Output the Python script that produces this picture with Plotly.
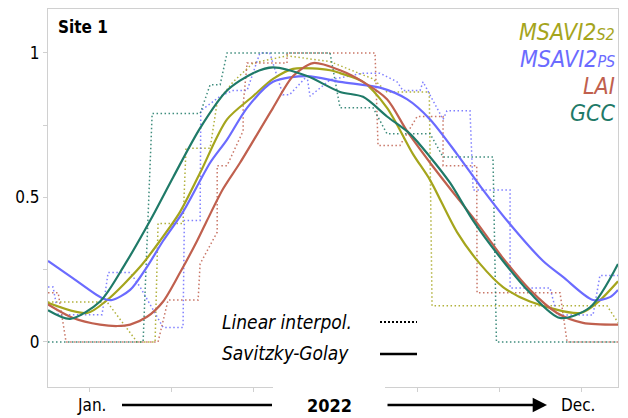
import plotly.graph_objects as go

# ---- data (day of year, value) ----
series_names = ["MSAVI2S2", "MSAVI2PS", "LAI", "GCC"]
colors = {"MSAVI2S2": "#a5a51c", "MSAVI2PS": "#6b6bff", "LAI": "#c0604e", "GCC": "#1f7a68"}

# Savitzky-Golay smoothed curves
sg_msavi_s2_x = [25, 48.8, 61, 81.1, 93.2, 105.4, 117.6, 134, 149.8, 162, 174.2, 196.7, 202.8, 216.8, 231.4, 247.2, 257.6, 274, 288, 302, 318.4, 348.9, 359.2, 372]
sg_msavi_s2_y = [0.135, 0.10, 0.145, 0.26, 0.35, 0.45, 0.585, 0.77, 0.85, 0.91, 0.945, 0.94, 0.93, 0.90, 0.81, 0.65, 0.56, 0.38, 0.27, 0.19, 0.14, 0.10, 0.135, 0.21]

sg_msavi_ps_x = [25, 40.3, 58.5, 64, 75, 85.3, 95.1, 107.2, 123.7, 134, 146.2, 162, 182.7, 202.8, 227.1, 243.5, 257.6, 274, 288, 304.4, 326.4, 338.5, 356.8, 367.1, 372]
sg_msavi_ps_y = [0.28, 0.22, 0.15, 0.145, 0.18, 0.26, 0.35, 0.45, 0.62, 0.70, 0.81, 0.90, 0.92, 0.90, 0.88, 0.84, 0.77, 0.65, 0.54, 0.42, 0.28, 0.225, 0.145, 0.155, 0.18]

sg_lai_x = [25, 40.3, 56.7, 67.1, 75, 85.3, 95.1, 105.4, 115.8, 121.8, 131.6, 141.9, 162, 174.2, 186.4, 202.8, 216.8, 231.4, 243.5, 257.6, 274, 283.8, 302, 318.4, 334.9, 350.7, 372]
sg_lai_y = [0.13, 0.083, 0.06, 0.055, 0.06, 0.087, 0.14, 0.24, 0.35, 0.42, 0.53, 0.62, 0.81, 0.92, 0.965, 0.94, 0.90, 0.84, 0.73, 0.62, 0.50, 0.43, 0.29, 0.18, 0.10, 0.066, 0.06]

sg_gcc_x = [25, 38.5, 56.7, 72, 87.2, 101.2, 117.6, 134, 149.8, 162, 182.7, 202.8, 216.8, 231.4, 245.4, 257.6, 269.8, 283.8, 302, 318.4, 336.7, 355, 372]
sg_gcc_y = [0.11, 0.08, 0.14, 0.27, 0.42, 0.57, 0.74, 0.87, 0.93, 0.95, 0.92, 0.865, 0.848, 0.78, 0.72, 0.64, 0.55, 0.42, 0.28, 0.17, 0.083, 0.12, 0.27]

# Linear interpolation (raw) curves
li_msavi_s2_x = [25, 61, 79.2, 90.2, 92, 107.2, 109, 123.7, 128, 137.7, 149.8, 170.5, 196.7, 222.9, 231.4, 257.1, 258.8, 365.3, 374]
li_msavi_s2_y = [0.138, 0.138, 0.0, 0.0, 0.41, 0.41, 0.67, 0.67, 0.83, 0.90, 0.965, 0.99, 0.97, 0.91, 0.865, 0.865, 0.125, 0.125, 0.05]

li_msavi_ps_x = [25, 28.1, 31.2, 57.9, 61.6, 75, 81.1, 95.1, 107.2, 108, 117.6, 118, 129.8, 137.7, 146.2, 154, 160, 168, 172, 182.7, 184.5, 196.7, 216.8, 227.1, 237.5, 241, 251.5, 253.3, 265.5, 267.9, 281.9, 283.8, 306.3, 306.3, 330.6, 334.9, 356.8, 361, 374]
li_msavi_ps_y = [0.19, 0.19, 0.094, 0.094, 0.24, 0.24, 0.19, 0.05, 0.05, 0.42, 0.42, 0.80, 0.85, 0.87, 0.87, 1.0, 1.0, 0.855, 0.855, 0.92, 0.85, 0.907, 0.93, 0.93, 0.90, 0.87, 0.87, 0.90, 0.77, 0.80, 0.80, 0.526, 0.526, 0.187, 0.187, 0.093, 0.093, 0.23, 0.23]

li_lai_x = [25, 31.2, 36, 92, 98.1, 116.4, 117.6, 128, 128, 134, 143.8, 143.8, 146.2, 170.5, 170.5, 224.1, 225.9, 239.3, 249.7, 265.5, 265.5, 286, 286.2, 336.7, 341, 374]
li_lai_y = [0.17, 0.17, 0.0, 0.0, 0.145, 0.145, 0.27, 0.38, 0.61, 0.61, 0.73, 0.82, 0.965, 0.965, 1.0, 1.0, 0.68, 0.68, 0.78, 0.78, 0.61, 0.61, 0.17, 0.17, 0.0, 0.0]

li_gcc_x = [25, 82.9, 88.4, 117.6, 123.7, 129.8, 134, 196.7, 202.8, 222.9, 231.4, 257.6, 265.5, 295.9, 298, 374]
li_gcc_y = [0.0, 0.0, 0.79, 0.79, 0.89, 0.89, 1.0, 1.0, 0.81, 0.81, 0.72, 0.72, 0.64, 0.64, 0.0, 0.0]

sg = {"MSAVI2S2": (sg_msavi_s2_x, sg_msavi_s2_y), "MSAVI2PS": (sg_msavi_ps_x, sg_msavi_ps_y),
      "LAI": (sg_lai_x, sg_lai_y), "GCC": (sg_gcc_x, sg_gcc_y)}
li = {"MSAVI2S2": (li_msavi_s2_x, li_msavi_s2_y), "MSAVI2PS": (li_msavi_ps_x, li_msavi_ps_y),
      "LAI": (li_lai_x, li_lai_y), "GCC": (li_gcc_x, li_gcc_y)}

y_tickvals = [0, 0.25, 0.5, 0.75, 1]
y_ticktext = ["0", "", "0.5", "", "1"]
x_tickvals = [50, 100, 150, 200, 250, 300, 350]

FONT = "DejaVu Sans Condensed, DejaVu Sans, sans-serif"

fig = go.Figure()
for n in series_names:
    x, y = li[n]
    fig.add_trace(go.Scatter(x=x, y=y, mode="lines", line=dict(color=colors[n], width=1.5, dash="1.5px,2.5px"),
                             opacity=0.85, showlegend=False, hoverinfo="skip"))
for n in series_names:
    x, y = sg[n]
    fig.add_trace(go.Scatter(x=x, y=y, mode="lines", line=dict(color=colors[n], width=2.2, shape="spline", smoothing=0.8),
                             showlegend=False, hoverinfo="skip"))

fig.update_layout(
    width=628, height=418,
    margin=dict(l=48, r=10, t=9, b=31),
    paper_bgcolor="white", plot_bgcolor="white",
    font=dict(family=FONT, size=15, color="black"),
    xaxis=dict(range=[25, 372], tickvals=x_tickvals, ticktext=[""] * len(x_tickvals),
               ticks="outside", ticklen=4, tickcolor="#d0d0d0", showgrid=False, zeroline=False,
               showline=True, linecolor="#d0d0d0", linewidth=1, mirror=True),
    yaxis=dict(range=[-0.156, 1.152], tickvals=y_tickvals, ticktext=y_ticktext,
               ticks="outside", ticklen=4, tickcolor="#d0d0d0", showgrid=False, zeroline=False,
               showline=True, linecolor="#d0d0d0", linewidth=1, mirror=True,
               tickfont=dict(family=FONT, size=17, color="black")),
)

def px_x(px):
    return (px - 48) / 570.0

def px_y(py):
    return (387 - py) / 378.0

ann = []
ann.append(dict(text="<b>Site 1</b>", x=px_x(56), y=px_y(27), xanchor="left", yanchor="middle",
                font=dict(family=FONT, size=17, color="black")))
legend_labels = [
    ("MSAVI2S2", "<i>MSAVI2<span style='font-size:16px'>S2</span></i>", 32),
    ("MSAVI2PS", "<i>MSAVI2<span style='font-size:16px'>PS</span></i>", 59),
    ("LAI", "<i>LAI</i>", 86),
    ("GCC", "<i>GCC</i>", 113),
]
for n, t, yy in legend_labels:
    ann.append(dict(text=t, x=px_x(617), y=px_y(yy), xanchor="right", yanchor="middle",
                    font=dict(family=FONT, size=23, color=colors[n])))
ann.append(dict(text="<i>Linear interpol.</i>", x=px_x(220), y=px_y(322), xanchor="left", yanchor="middle",
                font=dict(family=FONT, size=19, color="black")))
ann.append(dict(text="<i>Savitzky-Golay</i>", x=px_x(220), y=px_y(353), xanchor="left", yanchor="middle",
                font=dict(family=FONT, size=19, color="black")))
ann.append(dict(text="Jan.", x=px_x(91), y=px_y(405), xanchor="center", yanchor="middle",
                font=dict(family=FONT, size=17, color="black")))
ann.append(dict(text="<b>2022</b>", x=px_x(329), y=px_y(405), xanchor="center", yanchor="middle",
                font=dict(family=FONT, size=18, color="black")))
ann.append(dict(text="Dec.", x=px_x(578), y=px_y(405), xanchor="center", yanchor="middle",
                font=dict(family=FONT, size=17, color="black")))
# arrow towards Dec.
ann.append(dict(text="", x=px_x(547), y=px_y(405), ax=-(547 - 386), ay=0,
                axref="pixel", ayref="pixel", showarrow=True, arrowhead=2, arrowsize=1.1,
                arrowwidth=2.6, arrowcolor="black"))
for a in ann:
    a.setdefault("xref", "paper")
    a.setdefault("yref", "paper")
    a.setdefault("showarrow", False)
fig.update_layout(annotations=ann)

shapes = [
    # white patch hiding the axis behind the year label
    dict(type="rect", xref="paper", yref="paper", x0=px_x(273), x1=px_x(385), y0=px_y(394), y1=px_y(384),
         fillcolor="white", line=dict(width=0), layer="above"),
    # line from Jan. to 2022
    dict(type="line", xref="paper", yref="paper", x0=px_x(122), x1=px_x(272), y0=px_y(405), y1=px_y(405),
         line=dict(color="black", width=2.6)),
    # legend keys
    dict(type="line", xref="paper", yref="paper", x0=px_x(380), x1=px_x(417), y0=px_y(322), y1=px_y(322),
         line=dict(color="black", width=2.2, dash="2px,2px")),
    dict(type="line", xref="paper", yref="paper", x0=px_x(380), x1=px_x(417), y0=px_y(354), y1=px_y(354),
         line=dict(color="black", width=2.6)),
]
fig.update_layout(shapes=shapes)

fig.write_html("out.html")
